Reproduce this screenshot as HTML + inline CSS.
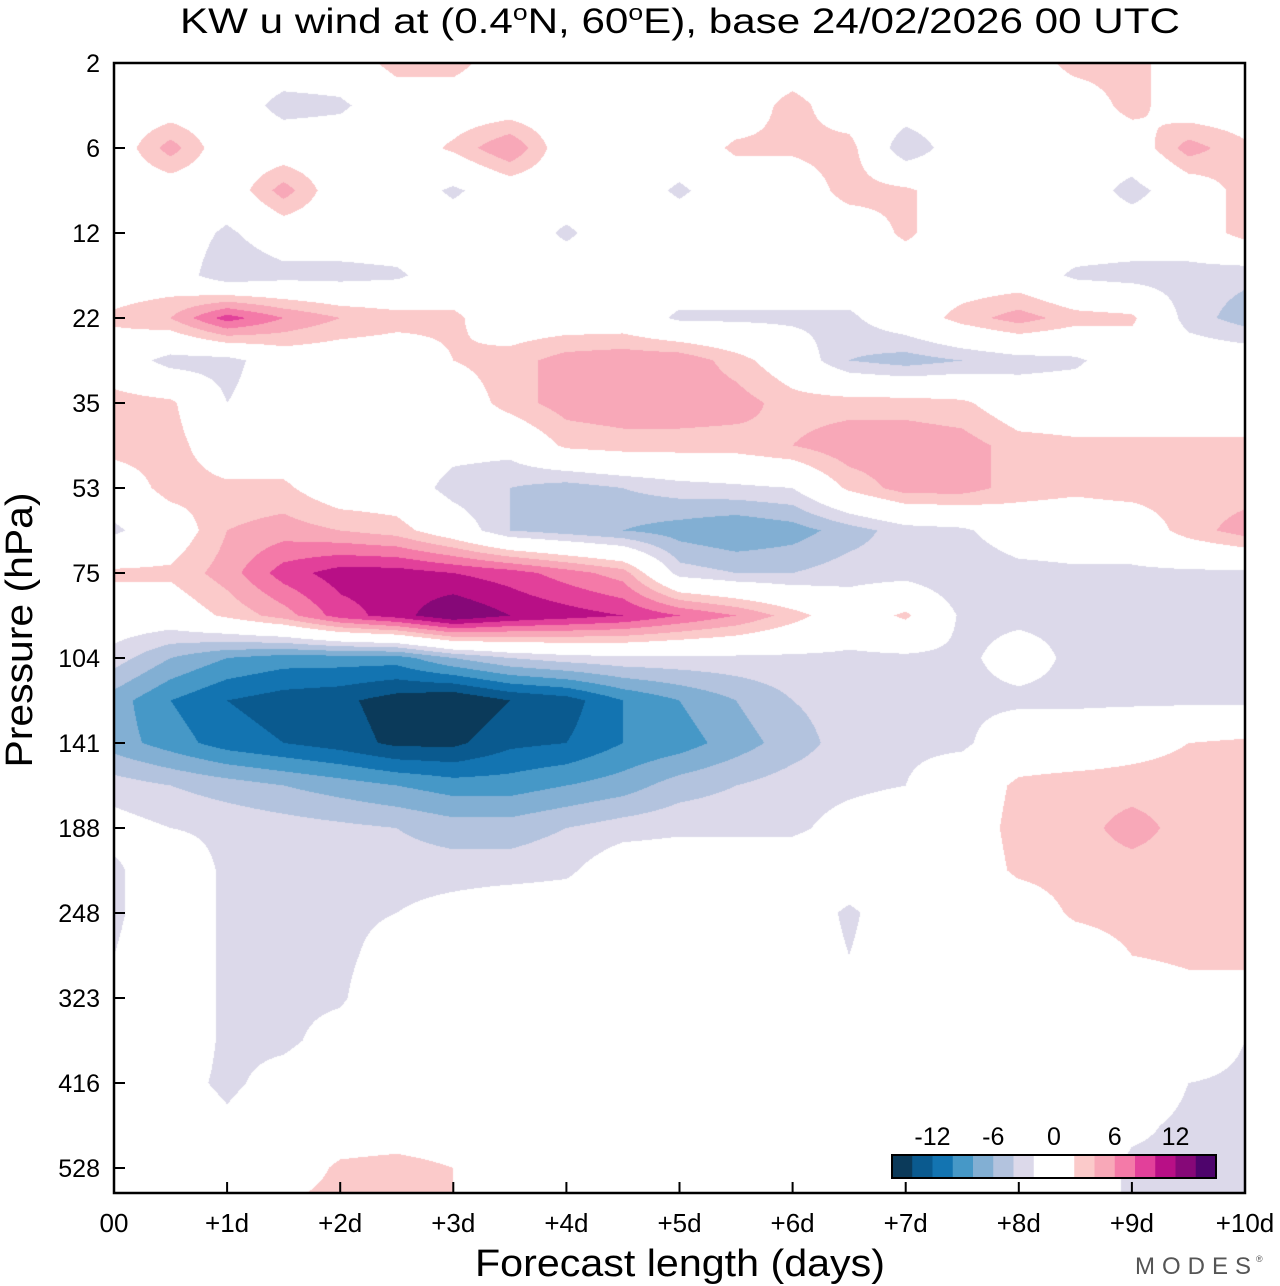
<!DOCTYPE html>
<html><head><meta charset="utf-8">
<style>
body{margin:0;background:#fff;width:1280px;height:1286px;overflow:hidden;font-family:"Liberation Sans",sans-serif;}
#wrap{position:relative;width:1280px;height:1286px;}
canvas,svg{position:absolute;left:0;top:0;}
</style></head><body>
<div id="wrap">
<canvas id="cv" width="1280" height="1286"></canvas>
<svg id="sv" width="1280" height="1286"></svg>
</div>
<script>
// ---- data ----
const days = [0,0.5,1,1.5,2,2.5,3,3.5,4,4.5,5,5.5,6,6.5,7,7.5,8,8.5,9,9.5,10];
const pressureTicks = ["2","6","12","22","35","53","75","104","141","188","248","323","416","528"];
const dayTickLabels = ["00","+1d","+2d","+3d","+4d","+5d","+6d","+7d","+8d","+9d","+10d"];
const cbarLabels = ["-12","-6","0","6","12"];
const cbarLabelValues = [-12,-6,0,6,12];
const levels = [-14,-12,-10,-8,-6,-4,-2,2,4,6,8,10,12,14];
const colors = ["#0b3a5a","#0a5a8f","#1374b1","#4698c7","#82afd3","#b3c3de","#dcd9ea","#ffffff","#fbcaca","#f8a8b8","#f47aa8","#e2409a","#b80f86","#860878","#4e046c"];
// rows: half pressure-tick steps (row index/2 = tick index), columns: days
const uwind = [
[0,0,0,0,0,3,3,0,0,0,0,0,0,0,0,0,0,3,3,0,0],
[0,0,0,-3,-2.5,0,0,0,0,0,0,0,3,0,0,0,0,0,3,0,0],
[0,5,0,0,0,0,2.5,6,0,0,0,2.5,2.5,3,-4,0,0,0,0,5,2.5],
[0,0,0,5,0,0,-2.5,0,0,0,-2.5,0,0,3,2.5,0,0,0,-3,0,3],
[0,0,-2.5,0,0,0,0,0,-2.5,0,0,0,0,0,2.5,0,0,0,0,0,3],
[0,0,-4,-3,-3,-2.5,0,0,0,0,0,0,0,0,0,0,0,-2.5,-3,-3,-3.5],
[2.5,4,9,6,4,3,2.5,0,0,0,-2.5,-2.5,-2.5,-2.5,0,3,5,3,2.5,-3,-5],
[0,-3,-3,0,0,0,2,3,5,5.5,5.5,3,0,-4,-5,-4,-3,-2.5,0,0,0],
[3,2.5,-2,0,0,0,0,3,5,5.5,5.5,5,3,3,3,2.5,0,0,0,0,0],
[3,3,0,0,0,0,-1,-1,2.5,3,3,3,4,5.5,5.5,5,3,2.5,2.5,2.5,2.5],
[0,3,2.5,2.5,0,0,-3,-4,-5,-4,-3,-2.5,-2,2.5,5,5,3,2.5,3,3,3],
[-2.5,0,4,5,4,3,0,-4,-5,-6,-7,-8,-7,-5,-3,-2.5,0,0,0,3,5],
[2.5,2.5,5,9,11,11,10,9,7,5,-3,-4,-4,-3,-3,-4,-3,-2.5,-2.5,-2.5,-2.5],
[0,0,2.5,5,9,11,14,12,11,10,8,6,3,0,2.5,-2.5,-2.5,-2.5,-3,-4,-4],
[-3,-6,-8,-9,-9,-9,-6,-4,-3,-2.5,-2.5,-2.5,-2.5,-2.5,-2.5,-2.5,-1,-2.5,-3,-3,-3],
[-7,-10,-12,-13,-13.5,-15,-16,-14,-13,-10,-8,-6,-4,-3,-3,-2.5,-2.5,-2.5,-2.5,-2.5,-2.5],
[-7,-9,-11,-12,-13,-14.5,-14.5,-12.5,-12,-10,-9,-7,-5,-3,-2.5,-2.5,0,0,1,2,2.5],
[-3,-4,-5,-6,-7,-8,-9,-9,-8,-7,-5,-4,-3,-2.5,-2,0,2.5,3,3,3,3],
[-1,-2,-2.5,-3,-3.5,-4,-5,-5,-4,-3,-2.5,-2.5,-2.5,-1,0,0,3,3,5,3,2.5],
[-2.5,0,-2.5,-2.5,-2.5,-3,-3,-3,-2.5,0,0,0,0,0,0,0,2.5,3,3,3,3],
[-2.5,0,-2.5,-2.5,-2.5,-2,-1,0,0,0,0,0,0,-2.5,0,0,0,2.5,3,3,3],
[-2,0,-2.5,-2.5,-2.5,-1,0,0,0,0,0,0,0,-2,0,0,0,0,2,2.5,2.5],
[0,0,-2.5,-2.5,-2.3,0,0,0,0,0,0,0,0,0,0,0,0,0,0,1,1],
[0,0,-2.5,-2.5,-1,0,0,0,0,0,0,0,0,0,0,0,0,0,0,0,-2],
[0,-1,-2.5,-1,0,0,0,0,0,0,0,0,0,0,0,0,0,0,0,-2,-2.5],
[0,0,-1.5,0,0,0,0,0,0,0,0,0,0,0,0,0,0,0,-1.5,-2.5,-2.5],
[0,0,0,0,2.5,3,2,0,0,0,0,0,0,0,0,0,0,0,-2.5,-2.5,-2.5],
[0,0,0,2.5,3,3,2,0,0,0,0,0,0,0,0,0,0,0,-2.5,-2.5,-2.5]
];
// ---- axes ----
const X0=114,X1=1245,Y0=63,Y1=1193,YT0=63,YTstep=85;
const xScale = d => X0 + (d/10)*(X1-X0);
const yScale = tickIdx => YT0 + tickIdx*YTstep;
const xInv = px => (px-X0)/(X1-X0)*10;
const yInv = py => (py-YT0)/YTstep;
function hex(c){return [parseInt(c.slice(1,3),16),parseInt(c.slice(3,5),16),parseInt(c.slice(5,7),16)];}
const rgb = colors.map(hex);
function idxFor(v){let k=0;while(k<levels.length && v>=levels[k])k++;return k;}
// ---- field ----
const cv=document.getElementById('cv'),ctx=cv.getContext('2d');
const img=ctx.createImageData(X1-X0,Y1-Y0);
const nR=uwind.length,nC=days.length,dStep=days[1]-days[0];
for(let py=Y0;py<Y1;py++){
  let r=yInv(py+0.5)*2; r=Math.max(0,Math.min(nR-1.001,r));
  const r0=Math.floor(r),fr=r-r0;
  for(let px=X0;px<X1;px++){
    let c=xInv(px+0.5)/dStep; c=Math.max(0,Math.min(nC-1.001,c));
    const c0=Math.floor(c),fc=c-c0;
    const v=(uwind[r0][c0]*(1-fc)+uwind[r0][c0+1]*fc)*(1-fr)+(uwind[r0+1][c0]*(1-fc)+uwind[r0+1][c0+1]*fc)*fr;
    const col=rgb[idxFor(v)];
    const o=((py-Y0)*(X1-X0)+(px-X0))*4;
    img.data[o]=col[0];img.data[o+1]=col[1];img.data[o+2]=col[2];img.data[o+3]=255;
  }
}
ctx.putImageData(img,X0,Y0);
// ---- svg overlay ----
const NS="http://www.w3.org/2000/svg",sv=document.getElementById('sv');
function mk(tag,attrs,parent){const e=document.createElementNS(NS,tag);for(const k in attrs)e.setAttribute(k,attrs[k]);(parent||sv).appendChild(e);return e;}
const CB0=892,CB1=1216,CBy=1155,CBh=23;
const cbBoxes=[0,1,2,3,4,5,6,7,7,8,9,10,11,12,13,14];
const bw2=(CB1-CB0)/cbBoxes.length;
cbBoxes.forEach((ci,i)=>{
  const r=mk('rect',{x:CB0+i*bw2,y:CBy,width:bw2+0.5,height:CBh,fill:colors[ci]});
  
  
});
const cbFrame=mk('rect',{x:CB0,y:CBy,width:CB1-CB0,height:CBh,fill:'none',stroke:'#000','stroke-width':2});


const cbX=v=>CB0+(v+16)/32*(CB1-CB0);
cbarLabels.forEach((t,i)=>{
  const e=mk('text',{x:cbX(cbarLabelValues[i]),y:1145,'text-anchor':'middle','font-size':25,fill:'#000'});
  e.textContent=t;
  
  
});
const fr=mk('rect',{x:X0,y:Y0,width:X1-X0,height:Y1-Y0,fill:'none',stroke:'#000','stroke-width':2.5});


pressureTicks.forEach((t,i)=>{
  const y=yScale(i);
  const l=mk('line',{x1:X0,x2:X0+11,y1:y,y2:y,stroke:'#000','stroke-width':2});
  
  
  const e=mk('text',{x:X0-14,y:y+9,'text-anchor':'end','font-size':25,fill:'#000'});
  e.textContent=t;
  
  
});
dayTickLabels.forEach((t,i)=>{
  const x=xScale(i);
  const l=mk('line',{x1:x,x2:x,y1:Y1,y2:Y1-11,stroke:'#000','stroke-width':2});
  
  
  const e=mk('text',{x:x,y:1232,'text-anchor':'middle','font-size':26,fill:'#000'});
  e.textContent=t;
  
  
});
</script>
<svg width="1280" height="1286" style="position:absolute;left:0;top:0;pointer-events:none">
<text x="680" y="33" text-anchor="middle" font-size="35" font-family="Liberation Sans, sans-serif" textLength="1000" lengthAdjust="spacingAndGlyphs">KW u wind at (0.4<tspan dy="-13" font-size="22">o</tspan><tspan dy="13">N, 60</tspan><tspan dy="-13" font-size="22">o</tspan><tspan dy="13">E),  base 24/02/2026  00 UTC</tspan></text>
<text x="680" y="1276" text-anchor="middle" font-size="38" font-family="Liberation Sans, sans-serif" textLength="410" lengthAdjust="spacingAndGlyphs">Forecast length (days)</text>
<text transform="translate(32,630) rotate(-90)" text-anchor="middle" font-size="38" font-family="Liberation Sans, sans-serif" textLength="275" lengthAdjust="spacingAndGlyphs">Pressure (hPa)</text>
<text x="1135" y="1274" font-size="24" fill="#555" letter-spacing="7" font-family="Liberation Sans, sans-serif">MODES</text>
<text x="1256" y="1262" font-size="9" fill="#555">®</text>
</svg>
</body></html>
